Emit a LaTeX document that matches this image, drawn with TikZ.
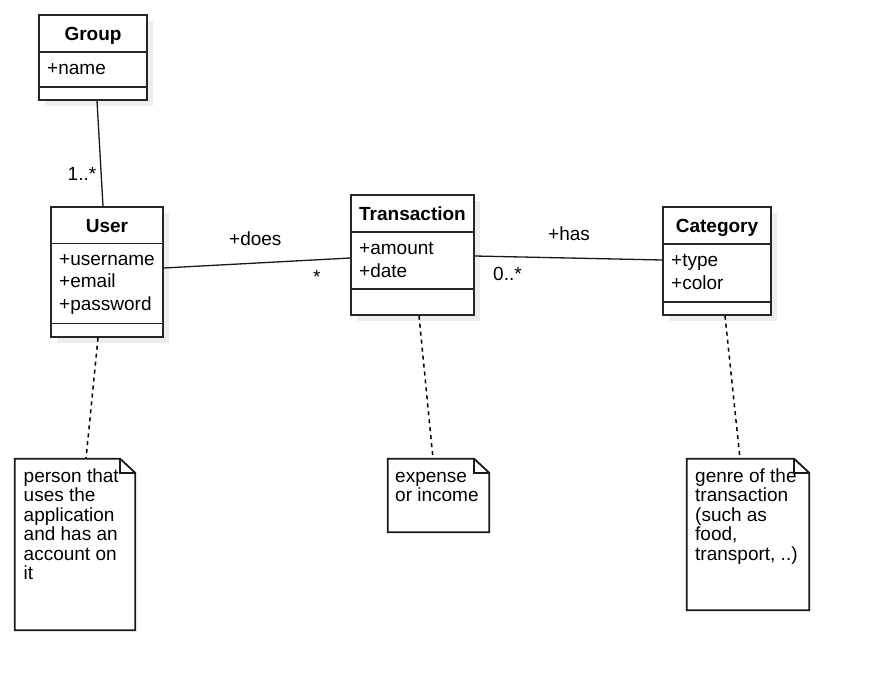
\documentclass[tikz,border=0pt]{standalone}
\usepackage{fontspec}
\setmainfont{Liberation Sans}
\usetikzlibrary{shadows}
\tikzset{
  x=1pt, y=-1pt,
  cls/.style={draw=black!85, line width=1.5pt, fill=white, inner sep=0pt,
    drop shadow={shadow xshift=6pt, shadow yshift=-6pt, fill=black!7, opacity=1}},
  sep/.style={draw=black!85, line width=1.5pt},
  title/.style={font=\fontsize{19}{22.5}\selectfont\bfseries, inner sep=0pt, anchor=base},
  attr/.style={font=\fontsize{19}{22.5}\selectfont, inner sep=0pt, anchor=base west},
  lbl/.style={font=\fontsize{19}{22.5}\selectfont, inner sep=0pt, anchor=base west},
  notebox/.style={inner sep=0pt},
  notetext/.style={font=\fontsize{19}{19.5}\selectfont, inner sep=0pt, anchor=base west, align=left},
  assoc/.style={draw=black!90, line width=1.3pt},
  anchorline/.style={draw=black, line width=1.5pt, dash pattern=on 4pt off 4pt},
  noteline/.style={draw=black!90, line width=1.8pt, fill=white},
  notefoldline/.style={draw=black!90, line width=1.8pt},
}
\newcommand{\notefold}[1]{%
  \path[noteline] (#1.north west) -- ([xshift=-15pt]#1.north east) -- ([yshift=-14pt]#1.north east)
     -- (#1.south east) -- (#1.south west) -- cycle;
  \draw[notefoldline] ([xshift=-15pt]#1.north east) -- ([xshift=-15pt,yshift=-14pt]#1.north east)
     -- ([yshift=-14pt]#1.north east);
}
\begin{document}
\begin{tikzpicture}
\useasboundingbox[fill=white] (0,0) rectangle (870,691);

% ---- Group ----
\node[cls, minimum width=108pt, minimum height=85pt] (group) at (93,57.5) {};
\draw[sep] (39,52) -- (147,52);
\draw[sep] (39,87) -- (147,87);
\node[title] (groupT) at (93,40) {Group};
\node[attr] (groupA) at (47,74) {+name};

% ---- User ----
\node[cls, minimum width=112pt, minimum height=130pt] (user) at (107,272) {};
\draw[sep] (51,243.5) -- (163,243.5);
\draw[sep] (51,323.5) -- (163,323.5);
\node[title] (userT) at (107,232) {User};
\node[attr] (userA1) at (59,265) {+username};
\node[attr] (userA2) at (59,287.5) {+email};
\node[attr] (userA3) at (59,310) {+password};

% ---- Transaction ----
\node[cls, minimum width=123pt, minimum height=120pt] (trans) at (412.5,255) {};
\draw[sep] (351,232) -- (474,232);
\draw[sep] (351,289) -- (474,289);
\node[title] (transT) at (412.5,220) {Transaction};
\node[attr] (transA1) at (359,254) {+amount};
\node[attr] (transA2) at (359,277) {+date};

% ---- Category ----
\node[cls, minimum width=108pt, minimum height=108pt] (cat) at (717,261) {};
\draw[sep] (663,244) -- (771,244);
\draw[sep] (663,302) -- (771,302);
\node[title] (catT) at (717,232) {Category};
\node[attr] (catA1) at (671,266) {+type};
\node[attr] (catA2) at (671,289) {+color};

% ---- associations ----
\draw[assoc] ([xshift=4pt]group.south) -- ([xshift=-4pt]user.north);
\node[lbl] (m1) at (67.5,180) {1..*};
\draw[assoc] ([yshift=4pt]user.east) -- ([yshift=-3pt]trans.west);
\node[lbl] (does) at (229,245) {+does};
\node[lbl] (m2) at (313,283) {*};
\draw[assoc] ([yshift=-1pt]trans.east) -- ([yshift=1pt]cat.west);
\node[lbl] (has) at (548,240) {+has};
\node[lbl] (m3) at (493,280) {0..*};

% ---- notes ----
\node[notebox, minimum width=120pt, minimum height=171pt] (n1) at (75,544.5) {};
\node[notebox, minimum width=101pt, minimum height=73pt] (n2) at (438.5,495.5) {};
\node[notebox, minimum width=122pt, minimum height=151pt] (n3) at (748,534.5) {};

\draw[anchorline] ([xshift=-9pt]user.south) -- ([xshift=11pt]n1.north);
\draw[anchorline] ([xshift=6.5pt]trans.south) -- ([xshift=-5.5pt]n2.north);
\draw[anchorline] ([xshift=8pt]cat.south) -- ([xshift=-8pt]n3.north);

\notefold{n1}
\notefold{n2}
\notefold{n3}

% base anchor of a multi-line node is the baseline of its last line
\node[notetext] (n1t) at (23.5,579.5) {person that\\uses the\\application\\and has an\\account on\\it};
\node[notetext] (n2t) at (395,501.5) {expense\\or income};
\node[notetext] (n3t) at (695,560) {genre of the\\transaction\\(such as\\food,\\transport, ..)};
\end{tikzpicture}
\end{document}
